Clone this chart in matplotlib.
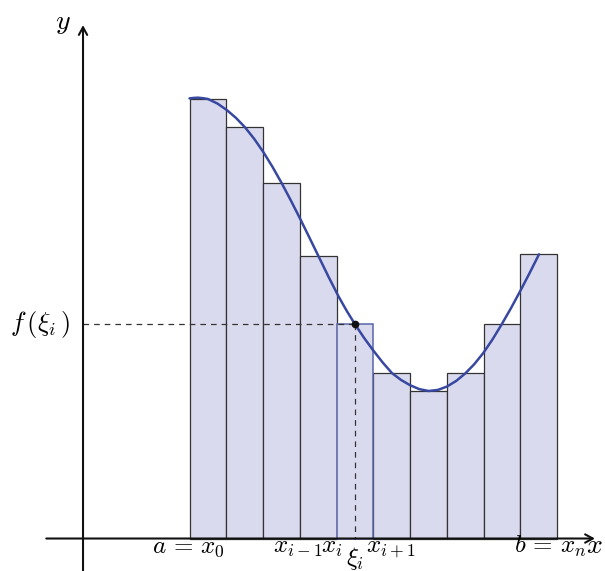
import matplotlib
matplotlib.use("Agg")
import matplotlib.pyplot as plt

plt.rcParams["mathtext.fontset"] = "cm"
plt.rcParams["font.family"] = ["DejaVu Serif"]

# Partition of [a, b] into equal sub-intervals (left edges) and bar heights f(midpoint)
left_edges = [2.9, 3.9, 4.9, 5.9, 6.9, 7.9, 8.9, 9.9, 10.9, 11.9]
bar_width = 1.0
heights = [11.96, 11.19, 9.67, 7.69, 5.83, 4.50, 4.01, 4.50, 5.85, 7.73]
highlight = 4  # index of the interval [x_i, x_{i+1}]

# Sampled points of the function f
curve_x = [2.898, 3.014, 3.129, 3.265, 3.401, 3.656, 3.910, 4.159, 4.408,
           4.657, 4.906, 5.155, 5.404, 5.654, 5.905, 6.155, 6.405, 6.676,
           6.947, 7.174, 7.401, 7.650, 7.899, 8.154, 8.408, 8.653, 8.898,
           9.151, 9.404, 9.654, 9.905, 10.155, 10.405, 10.649, 10.892,
           11.147, 11.401, 11.646, 11.891, 12.150, 12.408]
curve_y = [11.976, 11.989, 11.995, 11.981, 11.959, 11.837, 11.660, 11.448,
           11.189, 10.876, 10.517, 10.114, 9.673, 9.201, 8.707, 8.200, 7.687,
           7.131, 6.599, 6.197, 5.829, 5.456, 5.116, 4.790, 4.500, 4.315,
           4.172, 4.065, 4.014, 4.042, 4.136, 4.288, 4.495, 4.746, 5.048,
           5.423, 5.842, 6.269, 6.721, 7.219, 7.733]

xi = 7.401  # sample point in [x_i, x_{i+1}]

x_labels = [r"$a\,=\,x_0$", r"$x_{i-1}$", r"$x_i$", r"$x_{i+1}$", r"$b\,=\,x_n$"]
x_label_pos = [2.87, 5.83, 6.78, 8.36, 12.72]

fig = plt.figure(figsize=(6.05, 5.71), dpi=100)
ax = fig.add_axes([0, 0, 1, 1])
ax.set_xlim(-2.259, 14.204)
ax.set_ylim(-0.884, 14.653)
ax.axis("off")

fill = "#dadaee"
edge = "#333333"
hl_edge = "#5a64a8"
for i, (x0, h) in enumerate(zip(left_edges, heights)):
    if i == highlight:
        continue
    ax.bar(x0, h, width=bar_width, align="edge", color=fill,
           edgecolor=edge, linewidth=0.9, zorder=2)
ax.bar(left_edges[highlight], heights[highlight], width=bar_width, align="edge",
       color=fill, edgecolor=hl_edge, linewidth=1.1, zorder=2.5)

# dashed guides to f(xi_i)
fxi = heights[highlight]
ax.plot([0, xi], [fxi, fxi], ls=(0, (4.5, 4)), color="#333333", lw=0.9,
        zorder=3)
ax.plot([xi, xi], [fxi, 0], ls=(0, (4.5, 4)), color="#333333", lw=0.9,
        zorder=3)

ax.plot(curve_x, curve_y, color="#3848a0", lw=1.8, zorder=4,
        solid_capstyle="round", solid_joinstyle="round")
ax.plot(xi, fxi, "o", color="#111111", ms=4.5, zorder=5)

# coordinate axes
arrow = dict(arrowstyle="->,head_length=0.55,head_width=0.3", lw=1.5,
             color="#111111", shrinkA=0, shrinkB=0)
ax.annotate("", xy=(13.93, 0), xytext=(-1.0, 0), arrowprops=arrow, zorder=6)
ax.annotate("", xy=(0, 13.97), xytext=(0, -0.9), arrowprops=arrow, zorder=6)

fs = 18
for lab, xp in zip(x_labels, x_label_pos):
    ax.text(xp, -0.39, lab, fontsize=fs, ha="center", va="baseline", zorder=7)
ax.text(xi, -0.72, r"$\xi_i$", fontsize=fs, ha="center", va="baseline",
        zorder=7)
ax.text(13.92, -0.39, r"$x$", fontsize=20, ha="center", va="baseline",
        zorder=7)
ax.text(-0.54, 13.86, r"$y$", fontsize=20, ha="center", va="baseline")
ax.text(-1.17, fxi, r"$f\,(\xi_i\,)$", fontsize=19, ha="center", va="center")

fig.savefig("out.png", dpi=100)
